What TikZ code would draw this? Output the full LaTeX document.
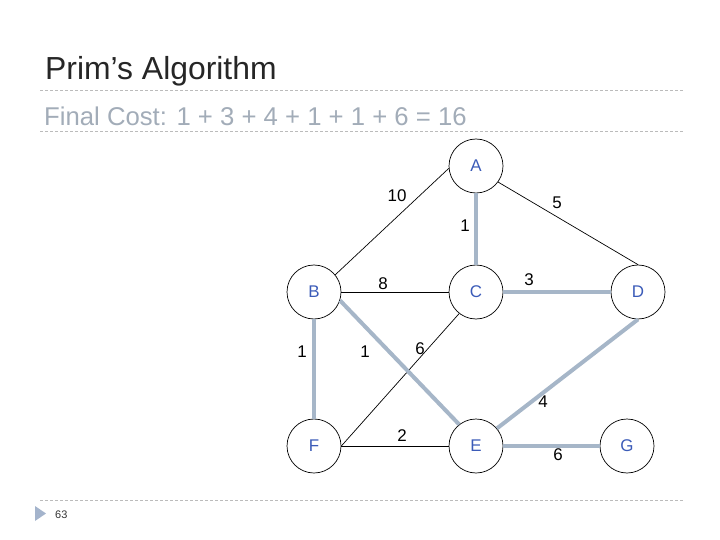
\documentclass[tikz,border=0pt]{standalone}
\usepackage{fontspec}
\setmainfont{Liberation Sans}
\usetikzlibrary{positioning,arrows.meta,calc}
\definecolor{nodeblue}{HTML}{3B5BB8}
\definecolor{mstgray}{HTML}{A6B6C8}
\definecolor{subgray}{HTML}{A2ACB8}
\definecolor{rulegray}{HTML}{BBBBBB}
\definecolor{markblue}{HTML}{A4B4CC}

\begin{document}
\begin{tikzpicture}[x=1bp,y=-1bp,
    vert/.style={draw,circle,minimum size=54bp,inner sep=0pt,line width=0.7bp,
      text=nodeblue,font=\fontsize{17}{18}\selectfont},
    wt/.style={inner sep=0pt,font=\fontsize{17}{18}\selectfont},
    plain/.style={line width=0.7bp},
    mst/.style={line width=4bp,mstgray},
    ruler/.style={rulegray,line width=0.7bp,dash pattern=on 3bp off 2bp}]
        \useasboundingbox (0,0) rectangle (720,540);

        % Titulo
        \node[anchor=base west,inner sep=0pt,text=black!85,font=\fontsize{32}{36}\selectfont] (title) at (45,80) {Prim’s Algorithm};
        \draw[ruler] (40,90) -- (685,90);
        \node[anchor=base west,inner sep=0pt,text=subgray,font=\fontsize{25.8}{30}\selectfont] (cost) at (44,126) {Final Cost: 1 + 3 + 4 + 1 + 1 + 6 = 16};
        \draw[ruler] (40,131) -- (685,131);

        % Vertices
        \node[vert] (A) at (476,166) {A};
        \node[vert] (B) at (314,292) {B};
        \node[vert] (C) at (476,292) {C};
        \node[vert] (D) at (638,292) {D};
        \node[vert] (F) at (314,446) {F};
        \node[vert] (E) at (476,446) {E};
        \node[vert] (G) at (627,446) {G};

        % Arestas
        \draw[plain] (A.185) -- (B.39);
        \draw[plain] (A.-36) -- (D.north);
        \draw[plain] (B.east) -- (C.west);
        \draw[plain] (C.232) -- (F.east);
        \draw[plain] (F.east) -- (E.west);

        % Arvore geradora minima
        \draw[mst] (A.south) -- (C.north);
        \draw[mst] (C.east) -- (D.west);
        \draw[mst] (B.south) -- (F.north);
        \draw[mst] (B.-18) -- (E.128);
        \draw[mst] (D.south) -- (E.40);
        \draw[mst] (E.east) -- (G.west);

        % Pesos
        \node[wt] (wAB) at (397,196) {10};
        \node[wt] (wAD) at (557,203) {5};
        \node[wt] (wAC) at (465,226) {1};
        \node[wt] (wBC) at (383,284) {8};
        \node[wt] (wCD) at (529,280) {3};
        \node[wt] (wBF) at (302,352) {1};
        \node[wt] (wBE) at (365,352) {1};
        \node[wt] (wCF) at (420,349) {6};
        \node[wt] (wDE) at (543,402) {4};
        \node[wt] (wFE) at (402,436) {2};
        \node[wt] (wEG) at (558,455) {6};

        % Rodape
        \draw[ruler] (40,500) -- (685,500);
        \fill[markblue] (35,506) -- (46,513.5) -- (35,521) -- cycle;
        \node[anchor=base west,inner sep=0pt,text=black!80,font=\fontsize{11}{12}\selectfont] (page) at (55,518) {63};
    \end{tikzpicture}
\end{document}
